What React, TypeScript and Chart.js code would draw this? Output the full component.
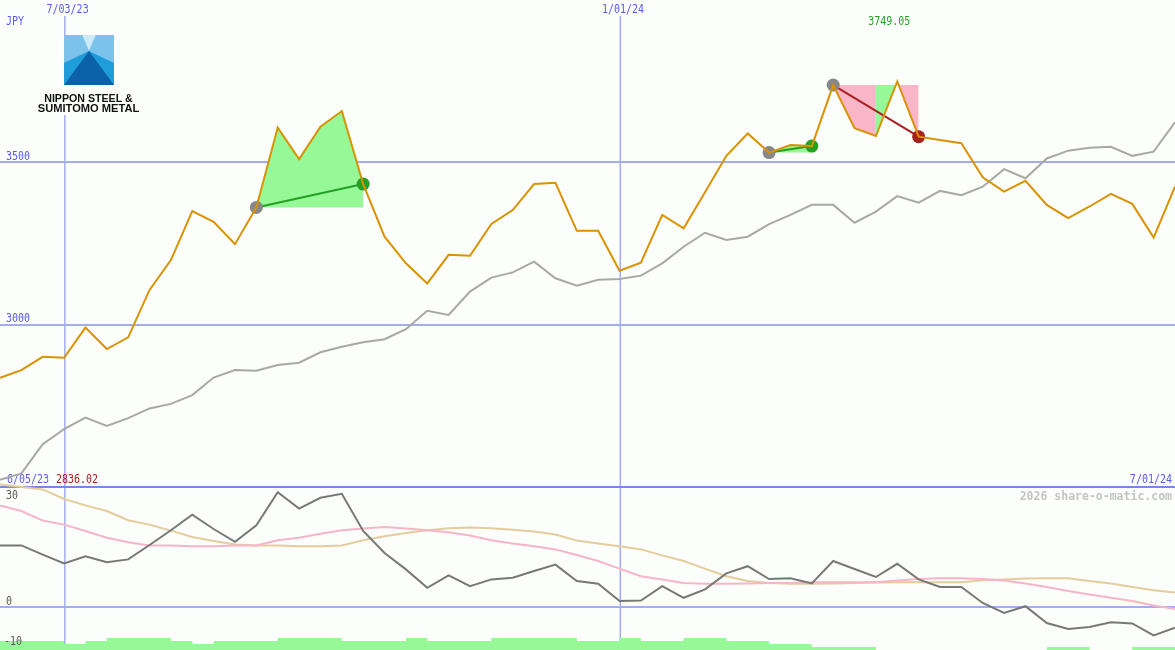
import React, { useEffect, useRef } from 'react';
import Chart from 'chart.js/auto';

// ---------- data ----------
const weeks = ['6/12/23', '6/19/23', '6/26/23', '7/03/23', '7/10/23', '7/17/23', '7/24/23', '7/31/23', '8/07/23', '8/14/23', '8/21/23', '8/28/23', '9/04/23', '9/11/23', '9/18/23', '9/25/23', '10/02/23', '10/09/23', '10/16/23', '10/23/23', '10/30/23', '11/06/23', '11/13/23', '11/20/23', '11/27/23', '12/04/23', '12/11/23', '12/18/23', '12/25/23', '1/01/24', '1/08/24', '1/15/24', '1/22/24', '1/29/24', '2/05/24', '2/12/24', '2/19/24', '2/26/24', '3/04/24', '3/11/24', '3/18/24', '3/25/24', '4/01/24', '4/08/24', '4/15/24', '4/22/24', '4/29/24', '5/06/24', '5/13/24', '5/20/24', '5/27/24', '6/03/24', '6/10/24', '6/17/24', '6/24/24', '7/01/24'];

const price = [2836.02, 2860, 2901, 2898, 2991, 2925, 2961, 3107, 3199, 3350, 3317, 3248, 3361, 3607, 3510, 3610, 3658, 3433, 3271, 3189, 3127, 3215, 3212, 3310, 3353, 3433, 3437, 3289, 3289, 3166, 3191, 3338, 3297, 3408, 3520, 3589, 3530, 3553, 3550, 3738, 3605, 3581, 3749.05, 3579, 3569, 3559, 3454, 3410, 3443, 3369, 3328, 3364, 3403, 3372, 3268, 3425];

const marketIndex = [2522, 2542, 2632, 2678, 2714, 2688, 2712, 2742, 2756, 2783, 2837, 2860, 2858, 2876, 2883, 2915, 2932, 2946, 2955, 2986, 3043, 3030, 3102, 3145, 3161, 3194, 3143, 3120, 3138, 3141, 3151, 3189, 3240, 3283, 3261, 3271, 3310, 3338, 3369, 3369, 3314, 3348, 3396, 3376, 3412, 3399, 3425, 3479, 3451, 3512, 3536, 3545, 3548, 3520, 3533, 3623];

const momentum = [15.4, 15.4, 13.1, 10.9, 12.7, 11.2, 11.9, 15.5, 19.2, 23.1, 19.5, 16.3, 20.4, 28.7, 24.6, 27.3, 28.3, 19.0, 13.5, 9.4, 4.8, 7.9, 5.2, 6.9, 7.3, 9.0, 10.6, 6.5, 5.8, 1.5, 1.6, 5.2, 2.3, 4.4, 8.4, 10.2, 7.0, 7.2, 5.9, 11.5, 9.5, 7.5, 10.8, 6.9, 5.0, 5.0, 1.0, -1.5, 0.2, -4.0, -5.5, -5.0, -3.8, -4.1, -7.1, -5.2];

const momentumAvgFast = [25.4, 24.0, 21.6, 20.6, 19.0, 17.3, 16.2, 15.4, 15.4, 15.2, 15.2, 15.4, 15.4, 16.7, 17.3, 18.3, 19.2, 19.6, 20.0, 19.6, 19.2, 18.7, 17.9, 16.7, 15.9, 15.2, 14.4, 13.0, 11.5, 9.6, 7.7, 6.9, 6.0, 5.8, 5.8, 5.9, 6.0, 6.0, 6.2, 6.2, 6.2, 6.2, 6.6, 7.0, 7.2, 7.2, 7.0, 6.6, 5.9, 5.0, 4.0, 3.1, 2.3, 1.5, 0.4, -0.5];

const momentumAvgSlow = [30.6, 30.0, 29.4, 27.0, 25.4, 24.0, 21.7, 20.6, 19.1, 17.5, 16.5, 15.6, 15.4, 15.4, 15.2, 15.2, 15.4, 16.7, 17.7, 18.5, 19.2, 19.7, 19.9, 19.7, 19.3, 18.9, 18.1, 16.6, 15.9, 15.2, 14.4, 12.9, 11.5, 9.6, 7.7, 6.5, 6.0, 5.8, 5.8, 5.9, 6.0, 6.1, 6.2, 6.2, 6.2, 6.2, 6.7, 6.9, 7.1, 7.2, 7.2, 6.5, 5.9, 5.0, 4.2, 3.6];

// one volume block per week interval (55 intervals between the 56 weekly points)
const volumeLevel = [3, 3, 3, 3, 2, 3, 4, 4, 4, 3, 2, 3, 3, 3, 4, 4, 4, 3, 3, 3, 4, 3, 3, 3, 4, 4, 4, 4, 3, 3, 4, 3, 3, 4, 4, 3, 3, 2, 2, 1, 1, 1, 0, 0, 0, 0, 0, 0, 0, 0, 1, 1, 0, 0, 1];

const signalFrom = ['9/04/23', '2/19/24', '3/11/24'];
const signalTo = ['10/09/23', '3/04/24', '4/08/24'];

const dateTicks = ['7/03/23', '1/01/24'];
const priceTicks = [3500, 3000];
const oscTicks = [30, 0, -10];
const currency = 'JPY';
const periodStart = '6/05/23';
const periodEnd = '7/01/24';
const watermark = '2026 share-o-matic.com';
const companyLines = ['NIPPON STEEL &', 'SUMITOMO METAL'];

// ---------- layout / style ----------
const W = 1175;
const H = 650;
const SPLIT = 487;
const PRICE_MAX = 4000;
const PRICE_MIN = 2500;
const OSC_TOP = 30;
const OSC_PX = 4;
const VOL_PX = 3;

const BG = '#fbfefb';
const GRID = '#a4acf0';
const SEP = '#7886ea';
const BLUE_TXT = '#5a5af0';
const ORANGE = '#d99200';
const IDX_GREY = '#a8a8a8';
const MOM_GREY = '#787878';
const PINK = '#f8b4c8';
const TAN = '#e4cc9c';
const FILL_GREEN = '#96f896';
const FILL_PINK = '#f9b6c8';
const UP = '#24a024';
const DOWN = '#a82020';
const DOT_GREY = '#888888';
const MONO = '"DejaVu Sans Mono", monospace';

function txt(ctx: CanvasRenderingContext2D, s: string, x: number, y: number, color: string, align: CanvasTextAlign = 'left', font = `10px ${MONO}`, sy = 1.15) {
  ctx.save();
  ctx.font = font;
  ctx.fillStyle = color;
  ctx.textAlign = align;
  ctx.textBaseline = 'alphabetic';
  ctx.translate(x, y);
  ctx.scale(1, sy);
  ctx.fillText(s, 0, 0);
  ctx.restore();
}

function poly(ctx: CanvasRenderingContext2D, pts: number[][], color: string) {
  ctx.beginPath();
  ctx.moveTo(pts[0][0], pts[0][1]);
  for (let i = 1; i < pts.length; i++) ctx.lineTo(pts[i][0], pts[i][1]);
  ctx.closePath();
  ctx.fillStyle = color;
  ctx.fill();
}

function drawLogo(ctx: CanvasRenderingContext2D, x0: number, y0: number, s: number) {
  ctx.save();
  ctx.fillStyle = BG;
  ctx.fillRect(x0 - 28, y0, s + 56, 80);
  const cx = x0 + s * 0.5;
  const cy = y0 + s * 0.32;
  ctx.fillStyle = '#1f9ddb';
  ctx.fillRect(x0, y0, s, s);
  poly(ctx, [[x0, y0], [x0 + s * 0.36, y0], [cx, cy], [x0, y0 + s * 0.56]], '#7cc3ec');
  poly(ctx, [[x0 + s * 0.64, y0], [x0 + s, y0], [x0 + s, y0 + s * 0.56], [cx, cy]], '#7cc3ec');
  poly(ctx, [[x0 + s * 0.36, y0], [x0 + s * 0.64, y0], [cx, cy]], '#cdeaf8');
  poly(ctx, [[cx, cy], [x0 + s, y0 + s], [x0, y0 + s]], '#0b62a8');
  const widths = [88.5, 101.5];
  const bases = [101.7, 112.3];
  ctx.font = 'bold 10.5px "Liberation Sans", Arial, sans-serif';
  ctx.fillStyle = '#111111';
  ctx.textAlign = 'center';
  companyLines.forEach((line, i) => {
    const m = ctx.measureText(line).width;
    ctx.save();
    ctx.translate(x0 + s * 0.5 - 0.5, bases[i]);
    ctx.scale(widths[i] / m, 1.0);
    ctx.fillText(line, 0, 0);
    ctx.restore();
  });
  ctx.restore();
}

const panelPlugin = {
  id: 'panels',
  beforeDraw(chart: any) {
    const ctx = chart.ctx;
    ctx.save();
    ctx.fillStyle = BG;
    ctx.fillRect(0, 0, chart.width, chart.height);
    ctx.restore();
  },
  beforeDatasetsDraw(chart: any) {
    const ctx: CanvasRenderingContext2D = chart.ctx;
    const x = chart.scales.x;
    const y = chart.scales.y;
    const y2 = chart.scales.y2;
    ctx.save();
    ctx.strokeStyle = GRID;
    ctx.lineWidth = 2;
    priceTicks.forEach((v) => {
      const py = Math.round(y.getPixelForValue(v));
      ctx.beginPath(); ctx.moveTo(0, py); ctx.lineTo(W, py); ctx.stroke();
    });
    oscTicks.forEach((v) => {
      if (v !== 0) return;
      const py = Math.round(y2.getPixelForValue(v));
      ctx.beginPath(); ctx.moveTo(0, py); ctx.lineTo(W, py); ctx.stroke();
    });
    ctx.lineWidth = 1.5;
    dateTicks.forEach((d) => {
      const px = x.getPixelForValue(weeks.indexOf(d)) + 0.75;
      ctx.beginPath(); ctx.moveTo(px, 16); ctx.lineTo(px, H); ctx.stroke();
    });
    const sep = Math.round(y2.getPixelForValue(OSC_TOP));
    ctx.strokeStyle = SEP;
    ctx.lineWidth = 2;
    ctx.beginPath(); ctx.moveTo(0, sep); ctx.lineTo(W, sep); ctx.stroke();
    ctx.restore();

    drawLogo(ctx, 64, 35, 50);

    dateTicks.forEach((d) => {
      const px = x.getPixelForValue(weeks.indexOf(d));
      txt(ctx, d, px + 3.5, 12.7, BLUE_TXT, 'center');
    });
    txt(ctx, currency, 6, 25, BLUE_TXT);
    priceTicks.forEach((v) => {
      const py = y.getPixelForValue(v);
      txt(ctx, String(v), 6, py - 2.6, BLUE_TXT);
    });
    let maxI = 0;
    let minI = 0;
    price.forEach((v, i) => {
      if (v > price[maxI]) maxI = i;
      if (v < price[minI]) minI = i;
    });
    txt(ctx, price[maxI].toFixed(2), x.getPixelForValue(maxI) - 8, 25, UP, 'center');
    txt(ctx, periodStart, 7, 483.3, BLUE_TXT);
    txt(ctx, price[minI].toFixed(2), 56, 483.3, DOWN);
    txt(ctx, periodEnd, 1172, 483, BLUE_TXT, 'right');
    txt(ctx, watermark, 1172, 500, '#c4c4c4', 'right', `bold 11.5px ${MONO}`, 1);
  },
  afterDatasetsDraw(chart: any) {
    const ctx: CanvasRenderingContext2D = chart.ctx;
    const y2 = chart.scales.y2;
    const sep = Math.round(y2.getPixelForValue(OSC_TOP));
    oscTicks.forEach((v) => {
      const py = y2.getPixelForValue(v);
      let base = py - 2.5;
      if (base - 9 < sep) base = py + 12.3;
      txt(ctx, String(v), v < 0 ? 4 : 6, base, '#5a5a5a');
    });
  },
};

function buildDatasets() {
  const lineDs = (data: (number | null)[], color: string, width: number, yAxisID: string) => ({
    type: 'line' as const,
    data,
    borderColor: color,
    borderWidth: width,
    pointRadius: 0,
    tension: 0,
    fill: false,
    xAxisID: 'x',
    yAxisID,
  });

  const trends: any[] = [];
  const fills: any[] = [];
  signalFrom.forEach((from, k) => {
    const s = weeks.indexOf(from);
    const e = weeks.indexOf(signalTo[k]);
    const base = price[s];
    const color = price[e] >= base ? UP : DOWN;
    trends.push({
      type: 'line',
      data: weeks.map((_, i) => (i === s || i === e ? price[i] : null)),
      spanGaps: true,
      borderColor: color,
      borderWidth: 2,
      tension: 0,
      fill: false,
      pointRadius: 6.5,
      pointBorderWidth: 0,
      pointBackgroundColor: (c: any) => (c.dataIndex === s ? DOT_GREY : color),
      xAxisID: 'x',
      yAxisID: 'y',
    });
    let runStart = s;
    let runColor = price[s + 1] >= base ? FILL_GREEN : FILL_PINK;
    for (let j = s; j < e; j++) {
      const c = price[j + 1] >= base ? FILL_GREEN : FILL_PINK;
      if (c !== runColor) {
        fills.push({ a: runStart, b: j, col: runColor, base });
        runStart = j;
        runColor = c;
      }
    }
    fills.push({ a: runStart, b: e, col: runColor, base });
  });

  const fillDs = fills.map((f) => ({
    type: 'line',
    data: weeks.map((_, i) => (i >= f.a && i <= f.b ? price[i] : null)),
    borderColor: 'rgba(0,0,0,0)',
    borderWidth: 1,
    backgroundColor: f.col,
    pointRadius: 0,
    tension: 0,
    fill: { value: f.base },
    xAxisID: 'x',
    yAxisID: 'y',
  }));

  // volume blocks: each weekly interval holds its level (stepped), closing point repeats the last block
  const volumeSteps = weeks.map((_, i) => volumeLevel[Math.min(i, volumeLevel.length - 1)]);

  return [
    lineDs(price, ORANGE, 2, 'y'),
    ...trends,
    lineDs(marketIndex, IDX_GREY, 2, 'y'),
    ...fillDs,
    lineDs(momentum, MOM_GREY, 2, 'y2'),
    lineDs(momentumAvgFast, PINK, 2, 'y2'),
    lineDs(momentumAvgSlow, TAN, 2, 'y2'),
    {
      type: 'line',
      data: volumeSteps,
      stepped: 'after',
      borderColor: 'rgba(0,0,0,0)',
      borderWidth: 1,
      backgroundColor: FILL_GREEN,
      pointRadius: 0,
      fill: 'origin',
      xAxisID: 'x',
      yAxisID: 'y3',
    },
  ];
}

export default function App() {
  const ref = useRef<HTMLCanvasElement>(null);
  useEffect(() => {
    const canvas = ref.current;
    if (!canvas) return;
    const chart = new Chart(canvas, {
      type: 'line',
      data: { labels: weeks, datasets: buildDatasets() as any },
      options: {
        responsive: false,
        maintainAspectRatio: false,
        devicePixelRatio: 1,
        animation: false,
        events: [],
        layout: { padding: 0, autoPadding: false },
        plugins: { legend: { display: false }, tooltip: { enabled: false } },
        scales: {
          x: { type: 'category', display: false, offset: false },
          y: {
            type: 'linear',
            display: false,
            max: PRICE_MAX,
            min: PRICE_MAX - ((PRICE_MAX - PRICE_MIN) * H) / SPLIT,
          },
          y2: {
            type: 'linear',
            display: false,
            max: OSC_TOP + SPLIT / OSC_PX,
            min: OSC_TOP - (H - SPLIT) / OSC_PX,
          },
          y3: { type: 'linear', display: false, min: 0, max: H / VOL_PX },
        },
      } as any,
      plugins: [panelPlugin],
    });
    return () => chart.destroy();
  }, []);
  return (
    <div style={{ position: 'fixed', left: 0, top: 0, width: W, height: H, background: BG }}>
      <canvas ref={ref} width={W} height={H} style={{ display: 'block', width: W, height: H }} />
    </div>
  );
}
